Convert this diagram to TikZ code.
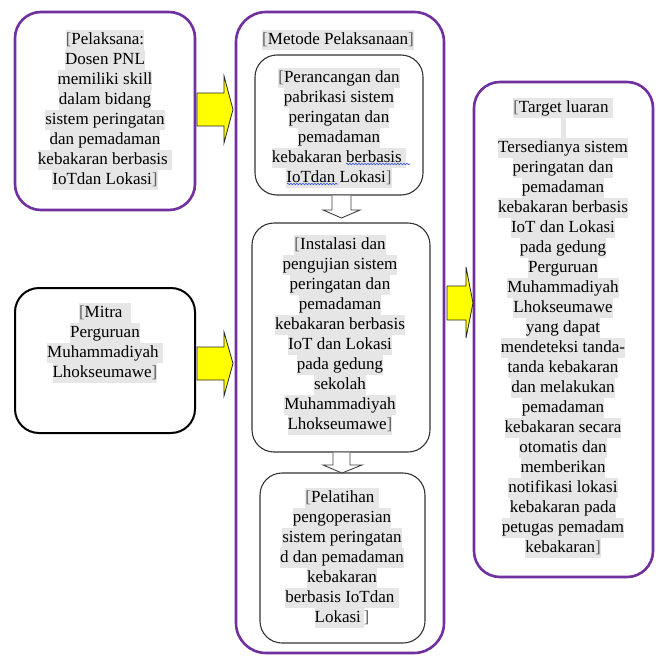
\documentclass[tikz,border=0pt]{standalone}
\usepackage{fontspec}
\setmainfont{Liberation Serif}
\usetikzlibrary{decorations.pathmorphing}
\definecolor{wpurple}{HTML}{7030A0}
\definecolor{shade}{HTML}{E6E6E6}
\definecolor{brk}{HTML}{5F5F5F}
\definecolor{yel}{HTML}{FFFF00}
\definecolor{spell}{HTML}{3050E0}
\setlength\fboxsep{0pt}
\newcommand\hlt[1]{\colorbox{shade}{\rule[-5.5pt]{0pt}{20pt}#1}}
\newcommand\lb{\textcolor{brk}{[}}
\newcommand\rb{\textcolor{brk}{]}}
\tikzset{
  pbox/.style={draw=wpurple, line width=2.6pt, rounded corners=26pt, fill=white},
  kbox/.style={draw=black, line width=2pt, rounded corners=24pt, fill=white},
  ibox/.style={draw=black!80, line width=1.1pt, rounded corners=22pt, fill=white},
  txt/.style={inner sep=0pt, align=center, font=\fontsize{17}{20}\selectfont, anchor=north},
  yarrow/.style={fill=yel, draw=black!85, line width=0.8pt, line join=miter},
  warrow/.style={fill=white, draw=black!75, line width=0.9pt, line join=miter},
  spellline/.style={draw=spell, line width=0.6pt, decorate, decoration={snake, amplitude=0.8pt, segment length=3pt}}
}
\begin{document}
\begin{tikzpicture}[x=1pt,y=-1pt]
\useasboundingbox (0,0) rectangle (656,656);
% boxes
\node[pbox, minimum width=180pt, minimum height=198pt] (pel) at (105,111) {};
\node[kbox, minimum width=180pt, minimum height=145pt] (mitra) at (105,360.5) {};
\node[pbox, rounded corners=30pt, minimum width=208pt, minimum height=641pt] (metode) at (340,332.5) {};
\node[ibox, minimum width=168pt, minimum height=140pt] (b1) at (339,125) {};
\node[ibox, minimum width=178pt, minimum height=229pt] (b2) at (341,337.5) {};
\node[ibox, minimum width=165pt, minimum height=170pt] (b3) at (342.5,558) {};
\node[pbox, minimum width=179pt, minimum height=495pt] (target) at (563.5,329.5) {};
% yellow block arrows
\coordinate (ya1) at (197,109.5);
\coordinate (ya2) at (197,363.5);
\coordinate (ya3) at (447,303);
\draw[yarrow] (ya1) ++(0,-16.5) -- ++(27,0) -- ++(0,-17) -- (233,109.5) -- (224,143) -- ++(0,-17) -- ++(-27,0) -- cycle;
\draw[yarrow] (ya2) ++(0,-16.5) -- ++(27,0) -- ++(0,-15) -- (233,363.5) -- (224,396) -- ++(0,-16) -- ++(-27,0) -- cycle;
\draw[yarrow] (ya3) ++(0,-17) -- ++(19,0) -- ++(0,-19) -- (473,303) -- (466,338) -- ++(0,-18) -- ++(-19,0) -- cycle;
% hollow down arrows
\draw[warrow] (332,195.5) -- (332,210) -- (323,210) -- (341.5,218) -- (360,210) -- (351,210) -- (351,195.5);
\draw[warrow] (333,452.5) -- (333,465) -- (323,465) -- (342,473) -- (362,465) -- (350,465) -- (350,452.5);
% texts
\node[txt] (tpel) at (105,30) {\hlt{\lb Pelaksana:}\\ \hlt{Dosen PNL}\\ \hlt{memiliki skill}\\ \hlt{dalam bidang}\\ \hlt{sistem peringatan}\\ \hlt{dan pemadaman}\\ \hlt{kebakaran berbasis }\\ \hlt{IoTdan Lokasi\rb}};
\node[txt] (tmitra) at (105,303) {\hlt{\lb Mitra\ \ }\\ \hlt{Perguruan}\\ \hlt{Muhammadiyah }\\ \hlt{Lhokseumawe\rb}};
\node[txt] (tmetode) at (338,30) {\hlt{\lb Metode Pelaksanaan\rb}};
\node[txt] (tb1) at (339,68) {\hlt{\lb Perancangan dan}\\ \hlt{pabrikasi sistem}\\ \hlt{peringatan dan}\\ \hlt{pemadaman}\\ \hlt{kebakaran berbasis }\\ \hlt{IoTdan Lokasi\rb}};
\node[txt] (tb2) at (340,235) {\hlt{\lb Instalasi dan}\\ \hlt{pengujian sistem}\\ \hlt{peringatan dan}\\ \hlt{pemadaman}\\ \hlt{kebakaran berbasis}\\ \hlt{IoT dan Lokasi}\\ \hlt{pada gedung}\\ \hlt{sekolah}\\ \hlt{Muhammadiyah}\\ \hlt{Lhokseumawe\rb}};
\node[txt] (tb3) at (342,488) {\hlt{\lb Pelatihan }\\ \hlt{pengoperasian}\\ \hlt{sistem peringatan}\\ \hlt{d dan pemadaman}\\ \hlt{kebakaran}\\ \hlt{berbasis IoTdan }\\ \hlt{Lokasi\,}\rb};
\node[txt] (ttarget) at (563,98) {\hlt{\lb Target luaran\ }\\ \hlt{\hspace{5pt}}\\ \hlt{Tersedianya sistem}\\ \hlt{peringatan dan}\\ \hlt{pemadaman}\\ \hlt{kebakaran berbasis}\\ \hlt{IoT dan Lokasi}\\ \hlt{pada gedung}\\ \hlt{Perguruan}\\ \hlt{Muhammadiyah}\\ \hlt{Lhokseumawe}\\ \hlt{yang dapat}\\ \hlt{mendeteksi tanda-}\\ \hlt{tanda kebakaran}\\ \hlt{dan melakukan}\\ \hlt{pemadaman}\\ \hlt{kebakaran secara}\\ \hlt{otomatis dan}\\ \hlt{memberikan}\\ \hlt{notifikasi lokasi}\\ \hlt{kebakaran pada}\\ \hlt{petugas pemadam}\\ \hlt{kebakaran\rb}};
% spell-check underlines
\draw[spellline] (346,164) -- (410,164);
\draw[spellline] (287,184) -- (338,184);
\end{tikzpicture}
\end{document}
